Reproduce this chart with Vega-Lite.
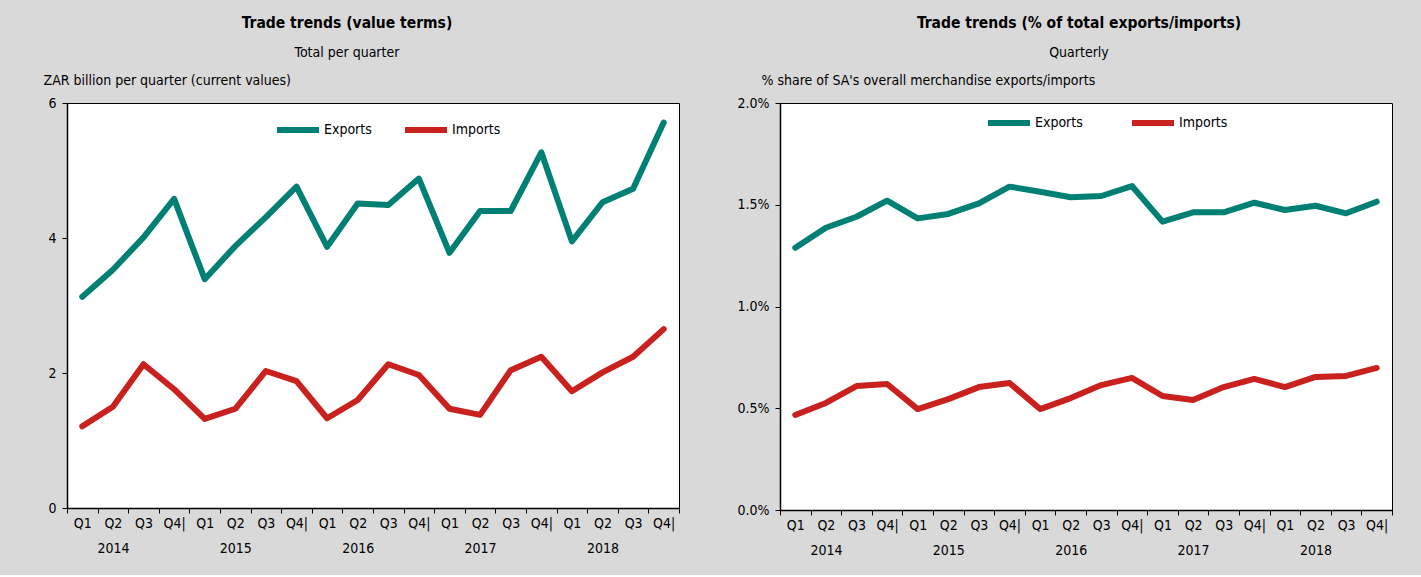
{
  "$schema": "https://vega.github.io/schema/vega-lite/v6.json",
  "background": "#d9d9d9",
  "padding": {"left": 42, "top": 15, "right": 29, "bottom": 17},
  "config": {
    "font": "DejaVu Sans Condensed, Liberation Sans Narrow, Liberation Sans",
    "view": {"fill": "white", "stroke": "black", "strokeWidth": 1},
    "title": {"fontSize": 15.5, "fontWeight": "bold", "color": "black", "subtitleFontSize": 14, "subtitleColor": "black", "subtitlePadding": 15, "anchor": "middle", "offset": 13},
    "axis": {"domainColor": "black", "tickColor": "black", "labelColor": "black", "titleColor": "black", "labelFontSize": 14, "tickSize": 5, "grid": false, "domainWidth": 1.5},
    "line": {"strokeWidth": 6, "strokeCap": "round", "strokeJoin": "round"}
  },
  "datasets": {
    "valueTerms": [
      {"period": "2014 Q1", "flow": "Exports", "value": 3.13},
      {"period": "2014 Q2", "flow": "Exports", "value": 3.53},
      {"period": "2014 Q3", "flow": "Exports", "value": 4.01},
      {"period": "2014 Q4", "flow": "Exports", "value": 4.58},
      {"period": "2015 Q1", "flow": "Exports", "value": 3.39},
      {"period": "2015 Q2", "flow": "Exports", "value": 3.88},
      {"period": "2015 Q3", "flow": "Exports", "value": 4.31},
      {"period": "2015 Q4", "flow": "Exports", "value": 4.76},
      {"period": "2016 Q1", "flow": "Exports", "value": 3.87},
      {"period": "2016 Q2", "flow": "Exports", "value": 4.51},
      {"period": "2016 Q3", "flow": "Exports", "value": 4.49},
      {"period": "2016 Q4", "flow": "Exports", "value": 4.88},
      {"period": "2017 Q1", "flow": "Exports", "value": 3.78},
      {"period": "2017 Q2", "flow": "Exports", "value": 4.40},
      {"period": "2017 Q3", "flow": "Exports", "value": 4.40},
      {"period": "2017 Q4", "flow": "Exports", "value": 5.27},
      {"period": "2018 Q1", "flow": "Exports", "value": 3.95},
      {"period": "2018 Q2", "flow": "Exports", "value": 4.53},
      {"period": "2018 Q3", "flow": "Exports", "value": 4.73},
      {"period": "2018 Q4", "flow": "Exports", "value": 5.71},
      {"period": "2014 Q1", "flow": "Imports", "value": 1.21},
      {"period": "2014 Q2", "flow": "Imports", "value": 1.50},
      {"period": "2014 Q3", "flow": "Imports", "value": 2.13},
      {"period": "2014 Q4", "flow": "Imports", "value": 1.76},
      {"period": "2015 Q1", "flow": "Imports", "value": 1.32},
      {"period": "2015 Q2", "flow": "Imports", "value": 1.47},
      {"period": "2015 Q3", "flow": "Imports", "value": 2.03},
      {"period": "2015 Q4", "flow": "Imports", "value": 1.88},
      {"period": "2016 Q1", "flow": "Imports", "value": 1.33},
      {"period": "2016 Q2", "flow": "Imports", "value": 1.60},
      {"period": "2016 Q3", "flow": "Imports", "value": 2.13},
      {"period": "2016 Q4", "flow": "Imports", "value": 1.97},
      {"period": "2017 Q1", "flow": "Imports", "value": 1.47},
      {"period": "2017 Q2", "flow": "Imports", "value": 1.38},
      {"period": "2017 Q3", "flow": "Imports", "value": 2.04},
      {"period": "2017 Q4", "flow": "Imports", "value": 2.24},
      {"period": "2018 Q1", "flow": "Imports", "value": 1.73},
      {"period": "2018 Q2", "flow": "Imports", "value": 2.01},
      {"period": "2018 Q3", "flow": "Imports", "value": 2.24},
      {"period": "2018 Q4", "flow": "Imports", "value": 2.65}
    ],
    "shareTerms": [
      {"period": "2014 Q1", "flow": "Exports", "value": 0.01289},
      {"period": "2014 Q2", "flow": "Exports", "value": 0.01387},
      {"period": "2014 Q3", "flow": "Exports", "value": 0.01441},
      {"period": "2014 Q4", "flow": "Exports", "value": 0.01520},
      {"period": "2015 Q1", "flow": "Exports", "value": 0.01433},
      {"period": "2015 Q2", "flow": "Exports", "value": 0.01455},
      {"period": "2015 Q3", "flow": "Exports", "value": 0.01507},
      {"period": "2015 Q4", "flow": "Exports", "value": 0.01589},
      {"period": "2016 Q1", "flow": "Exports", "value": 0.01564},
      {"period": "2016 Q2", "flow": "Exports", "value": 0.01537},
      {"period": "2016 Q3", "flow": "Exports", "value": 0.01543},
      {"period": "2016 Q4", "flow": "Exports", "value": 0.01592},
      {"period": "2017 Q1", "flow": "Exports", "value": 0.01417},
      {"period": "2017 Q2", "flow": "Exports", "value": 0.01463},
      {"period": "2017 Q3", "flow": "Exports", "value": 0.01463},
      {"period": "2017 Q4", "flow": "Exports", "value": 0.01510},
      {"period": "2018 Q1", "flow": "Exports", "value": 0.01474},
      {"period": "2018 Q2", "flow": "Exports", "value": 0.01495},
      {"period": "2018 Q3", "flow": "Exports", "value": 0.01458},
      {"period": "2018 Q4", "flow": "Exports", "value": 0.01515},
      {"period": "2014 Q1", "flow": "Imports", "value": 0.00467},
      {"period": "2014 Q2", "flow": "Imports", "value": 0.00526},
      {"period": "2014 Q3", "flow": "Imports", "value": 0.00609},
      {"period": "2014 Q4", "flow": "Imports", "value": 0.00619},
      {"period": "2015 Q1", "flow": "Imports", "value": 0.00496},
      {"period": "2015 Q2", "flow": "Imports", "value": 0.00545},
      {"period": "2015 Q3", "flow": "Imports", "value": 0.00604},
      {"period": "2015 Q4", "flow": "Imports", "value": 0.00624},
      {"period": "2016 Q1", "flow": "Imports", "value": 0.00496},
      {"period": "2016 Q2", "flow": "Imports", "value": 0.00550},
      {"period": "2016 Q3", "flow": "Imports", "value": 0.00614},
      {"period": "2016 Q4", "flow": "Imports", "value": 0.00649},
      {"period": "2017 Q1", "flow": "Imports", "value": 0.00560},
      {"period": "2017 Q2", "flow": "Imports", "value": 0.00541},
      {"period": "2017 Q3", "flow": "Imports", "value": 0.00604},
      {"period": "2017 Q4", "flow": "Imports", "value": 0.00644},
      {"period": "2018 Q1", "flow": "Imports", "value": 0.00604},
      {"period": "2018 Q2", "flow": "Imports", "value": 0.00654},
      {"period": "2018 Q3", "flow": "Imports", "value": 0.00659},
      {"period": "2018 Q4", "flow": "Imports", "value": 0.00698}
    ]
  },
  "spacing": 56,
  "resolve": {"scale": {"color": "independent", "y": "independent"}, "legend": {"color": "independent"}},
  "hconcat": [
    {
      "width": 612,
      "height": 405,
      "data": {"name": "valueTerms"},
      "title": {"text": "Trade trends (value terms)", "subtitle": "Total per quarter", "dx": -26},
      "mark": {"type": "line"},
      "encoding": {
        "x": {
          "field": "period", "type": "ordinal", "sort": null,
          "scale": {"type": "band", "paddingInner": 0, "paddingOuter": 0},
          "axis": {
            "title": null, "tickBand": "extent", "labelAngle": 0, "labelPadding": 3, "labelLineHeight": 25,
            "labelExpr": "split(datum.value, ' ')[1] == 'Q2' ? ['Q2', split(datum.value, ' ')[0]] : (split(datum.value, ' ')[1] == 'Q4' ? 'Q4|' : split(datum.value, ' ')[1])"
          }
        },
        "y": {
          "field": "value", "type": "quantitative",
          "scale": {"domain": [0, 6], "nice": false},
          "axis": {
            "values": [0, 2, 4, 6], "labelPadding": 6,
            "title": "ZAR billion per quarter (current values)", "titleAngle": 0, "titleAlign": "left", "titleBaseline": "middle",
            "titleX": -24, "titleY": -23, "titleFontWeight": "normal", "titleFontSize": 14
          }
        },
        "color": {
          "field": "flow", "type": "nominal",
          "scale": {"domain": ["Exports", "Imports"], "range": ["#008074", "#c9211e"]},
          "legend": {
            "orient": "none", "legendX": 207, "legendY": 3, "direction": "horizontal", "title": null,
            "symbolType": "stroke", "symbolSize": 1764, "symbolStrokeWidth": 6, "labelFontSize": 14,
            "labelOffset": 2, "columnPadding": 30, "labelColor": "black"
          }
        }
      }
    },
    {
      "width": 612,
      "height": 407,
      "data": {"name": "shareTerms"},
      "title": {"text": "Trade trends (% of total exports/imports)", "subtitle": "Quarterly", "dx": -7},
      "mark": {"type": "line"},
      "encoding": {
        "x": {
          "field": "period", "type": "ordinal", "sort": null,
          "scale": {"type": "band", "paddingInner": 0, "paddingOuter": 0},
          "axis": {
            "title": null, "tickBand": "extent", "labelAngle": 0, "labelPadding": 3, "labelLineHeight": 25,
            "labelExpr": "split(datum.value, ' ')[1] == 'Q2' ? ['Q2', split(datum.value, ' ')[0]] : (split(datum.value, ' ')[1] == 'Q4' ? 'Q4|' : split(datum.value, ' ')[1])"
          }
        },
        "y": {
          "field": "value", "type": "quantitative",
          "scale": {"domain": [0, 0.02], "nice": false},
          "axis": {
            "values": [0, 0.005, 0.01, 0.015, 0.02], "format": ".1%", "labelPadding": 6,
            "title": "% share of SA's overall merchandise exports/imports", "titleAngle": 0, "titleAlign": "left", "titleBaseline": "middle",
            "titleX": -19, "titleY": -23, "titleFontWeight": "normal", "titleFontSize": 14
          }
        },
        "color": {
          "field": "flow", "type": "nominal",
          "scale": {"domain": ["Exports", "Imports"], "range": ["#008074", "#c9211e"]},
          "legend": {
            "orient": "none", "legendX": 205, "legendY": -4, "direction": "horizontal", "title": null,
            "symbolType": "stroke", "symbolSize": 1764, "symbolStrokeWidth": 6, "labelFontSize": 14,
            "labelOffset": 2, "columnPadding": 46, "labelColor": "black"
          }
        }
      }
    }
  ]
}
